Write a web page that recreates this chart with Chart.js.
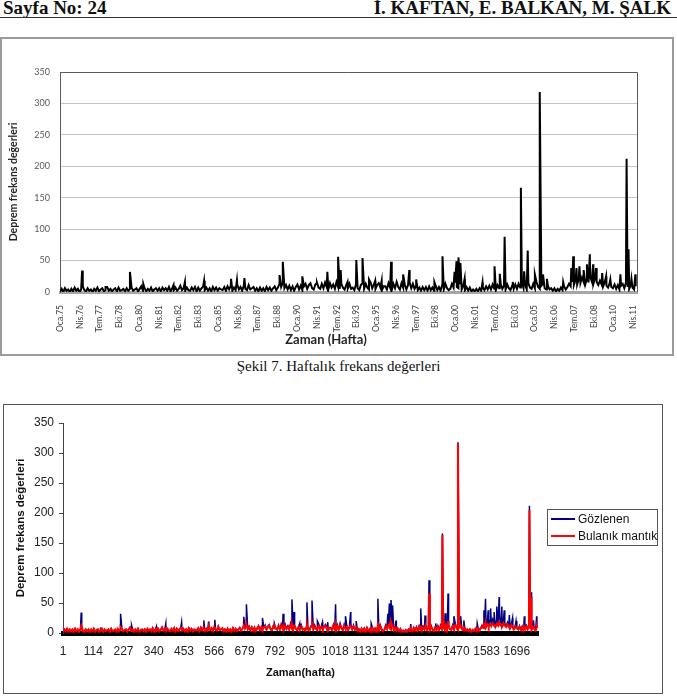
<!DOCTYPE html>
<html lang="tr">
<head>
<meta charset="utf-8">
<title>Haftalık frekans değerleri</title>
<script src="https://cdn.jsdelivr.net/npm/chart.js@4.4.1/dist/chart.umd.min.js"></script>
<style>
  body { margin: 0; background: #fff; }
  #page { position: relative; width: 677px; height: 700px; overflow: hidden; background: #fff; }
  .head { position: absolute; top: -1px; font: bold 19px "Liberation Serif", "Times New Roman", serif; color: #111; line-height: 18px; white-space: nowrap; }
  #rule { position: absolute; left: 0; top: 17px; width: 677px; border-top: 1.5px solid #333; }
  #box1 { position: absolute; left: 0; top: 37px; width: 674px; height: 319px; box-sizing: border-box; border: 2px solid #9b9b9b; }
  #c1 { position: absolute; left: 2px; top: 39px; }
  #caption { position: absolute; left: 0; width: 677px; top: 358px; text-align: center; font: 15px "Liberation Serif", serif; color: #111; }
  #box2 { position: absolute; left: 3px; top: 404px; width: 660px; height: 290px; box-sizing: border-box; border: 1.5px solid #555; }
  #c2 { position: absolute; left: 5px; top: 406px; }
  #legend { position: absolute; left: 547px; top: 509px; width: 111px; height: 37px; box-sizing: border-box; border: 1px solid #555; padding-top: 1px; font: 12px "Liberation Sans", Arial, sans-serif; color: #111; }
  #legend .item { height: 17px; line-height: 17px; white-space: nowrap; }
  #legend .swatch { display: inline-block; width: 24px; height: 0; border-top: 2px solid; vertical-align: middle; margin: 0 3px 2px 3px; }
</style>
</head>
<body>
<div id="page">
  <div class="head" style="left:3px">Sayfa No: 24</div>
  <div class="head" style="right:6px">İ. KAFTAN, E. BALKAN, M. ŞALK</div>
  <div id="rule"></div>

  <div id="box1"></div>
  <canvas id="c1" width="670" height="315"></canvas>
  <div id="caption">Şekil 7. Haftalık frekans değerleri</div>

  <div id="box2"></div>
  <canvas id="c2" width="545" height="285"></canvas>
  <div id="legend"></div>
</div>

<script>
// weekly earthquake counts, base samples every 5 weeks + the visible spikes
var SAMPLE_STEP = 5;
var WEEK_MAX = 1775;

var topTickLabels = ["Oca.75", "Nis.76", "Tem.77", "Eki.78", "Oca.80", "Nis.81", "Tem.82", "Eki.83",
  "Oca.85", "Nis.86", "Tem.87", "Eki.88", "Oca.90", "Nis.91", "Tem.92", "Eki.93", "Oca.95", "Nis.96",
  "Tem.97", "Eki.98", "Oca.00", "Nis.01", "Tem.02", "Eki.03", "Oca.05", "Nis.06", "Tem.07", "Eki.08",
  "Oca.10", "Nis.11"];
var TOP_TICK_STEP = 60.8; // weeks per 15 months

var bottomTickLabels = [1, 114, 227, 340, 453, 566, 679, 792, 905, 1018, 1131, 1244, 1357, 1470, 1583, 1696];

var observedBase = [
  1,5,0,6,2,4,0,5,1,7,2,5,0,4,9,3,1,6,2,4,
  0,5,2,7,1,4,6,1,3,8,2,5,1,4,6,1,7,2,3,5,
  1,6,2,5,7,2,4,6,1,5,9,2,6,1,5,2,7,1,4,6,
  2,6,1,7,3,6,2,8,1,6,3,7,2,5,10,3,6,2,7,3,
  2,7,3,8,1,7,2,6,9,3,7,2,6,1,8,3,7,2,6,4,
  3,8,2,9,4,10,2,7,3,12,4,8,2,10,5,3,11,4,6,8,
  2,6,1,7,2,6,1,8,3,7,2,6,9,3,7,13,8,15,6,11,
  4,10,3,9,2,8,12,4,10,3,9,13,5,11,14,6,4,12,15,7,
  5,13,6,15,8,4,14,7,12,5,16,8,5,13,7,4,11,6,13,5,
  7,3,12,6,3,11,14,5,13,7,4,15,6,12,5,11,14,7,3,9,
  9,4,14,7,3,13,6,16,8,4,14,7,12,4,11,15,6,13,5,10,
  3,7,2,8,3,8,2,9,3,7,2,10,3,8,2,11,4,13,6,3,
  5,13,7,15,8,6,14,4,10,3,8,2,7,1,4,1,5,1,6,2,
  7,3,9,4,10,4,12,5,3,11,6,13,5,10,4,12,6,3,10,5,
  12,5,13,7,15,6,12,4,14,7,5,13,6,16,8,5,10,13,6,4,
  10,4,6,2,6,1,5,2,7,3,9,4,8,13,9,16,11,19,12,21,
  14,23,16,12,21,15,25,17,13,22,16,11,18,12,9,16,10,7,14,8,
  6,12,5,11,4,10,13,6,15,8,5,12,7,4,9
];

var fuzzyBase = [
  2,6,3,7,2,6,3,6,2,7,3,6,2,6,9,4,2,6,3,6,
  2,6,3,7,2,5,6,2,4,7,2,6,3,5,6,2,7,3,4,6,
  2,7,3,6,7,3,5,6,2,6,9,3,6,2,6,3,7,2,5,6,
  3,6,2,7,4,6,3,8,2,6,4,7,3,6,9,4,6,3,7,4,
  3,7,4,8,2,7,3,6,9,4,7,3,6,2,8,4,7,3,6,5,
  4,8,3,9,5,9,3,7,4,11,5,8,3,10,6,4,10,5,6,8,
  3,6,2,7,3,6,2,8,4,7,3,6,8,4,7,11,8,12,6,10,
  5,9,4,9,3,8,11,5,9,4,9,11,6,10,12,7,5,10,12,7,
  6,11,6,12,8,5,12,7,10,6,13,8,6,11,7,5,10,6,11,6,
  7,4,10,6,4,10,12,6,11,7,5,12,6,10,6,10,12,7,4,8,
  8,5,12,7,4,11,6,13,8,5,12,7,10,5,10,12,6,11,6,9,
  3,6,2,7,3,7,2,8,3,6,2,9,3,7,2,9,4,11,6,3,
  5,11,7,12,8,6,11,5,9,4,7,3,6,2,4,2,5,2,5,3,
  6,3,8,4,9,4,10,5,3,9,6,11,5,9,4,10,6,3,9,5,
  10,5,11,7,12,6,10,4,12,7,5,11,6,13,8,5,9,11,6,4,
  9,4,6,3,6,2,5,3,7,3,8,4,8,11,8,13,10,14,10,15,
  12,16,13,10,15,12,17,13,11,16,13,10,14,10,8,13,9,7,11,8,
  6,10,5,9,4,9,11,6,12,7,5,10,7,4,8
];

var peakWeeks = [69,141,216,257,350,385,444,527,545,568,676,686,746,790,823,856,864,885,912,931,
  951,970,990,1019,1056,1075,1096,1152,1177,1214,1220,1226,1232,1245,1300,1337,1353,1368,1393,1418,
  1428,1439,1461,1476,1486,1498,1548,1573,1579,1589,1598,1611,1621,1630,1640,1649,1668,1680,1693,1724,
  1743,1749,1758,1770];
var peakObserved = [34,8,32,13,11,16,18,21,19,22,27,48,25,14,32,56,35,16,51,54,
  20,18,18,48,28,35,20,16,57,32,49,55,46,21,15,41,29,88,16,166,
  33,66,28,318,28,21,16,38,57,38,41,35,44,60,44,38,30,25,20,28,
  212,68,21,28];
var peakFuzzy = [12,5,10,6,7,8,8,9,8,9,12,14,10,8,12,15,12,9,14,16,
  9,8,9,14,10,12,9,8,18,12,15,18,14,9,8,12,10,66,9,163,
  14,20,12,316,12,10,8,14,18,13,14,12,15,18,14,12,11,10,9,11,
  205,60,10,12];

function buildSeries(base, peaks) {
  var pts = base.map(function(v, i) { return {x: 1 + i * SAMPLE_STEP, y: v}; });
  peakWeeks.forEach(function(w, i) { pts.push({x: w, y: peaks[i]}); });
  pts.sort(function(a, b) { return a.x - b.x; });
  return pts;
}

var observed = buildSeries(observedBase, peakObserved);
var fuzzy = buildSeries(fuzzyBase, peakFuzzy);

// top and right edge of the Excel-style plot area
var plotFrame = {
  id: 'plotFrame',
  beforeDatasetsDraw: function(chart, args, opts) {
    if (!opts.color) return;
    var a = chart.chartArea, ctx = chart.ctx;
    ctx.save();
    ctx.strokeStyle = opts.color;
    ctx.lineWidth = 1;
    ctx.beginPath();
    ctx.moveTo(a.left, Math.round(a.top) + 0.5);
    ctx.lineTo(Math.round(a.right) + 0.5, Math.round(a.top) + 0.5);
    ctx.lineTo(Math.round(a.right) + 0.5, a.bottom);
    ctx.stroke();
    ctx.restore();
  }
};

// free positioned axis caption (Excel centres it on the whole chart)
var freeTitle = {
  id: 'freeTitle',
  afterDraw: function(chart, args, opts) {
    if (!opts.text) return;
    var ctx = chart.ctx;
    ctx.save();
    ctx.font = opts.font;
    ctx.fillStyle = opts.color;
    ctx.textAlign = 'center';
    ctx.textBaseline = 'middle';
    ctx.fillText(opts.text, opts.x, opts.y);
    ctx.restore();
  }
};

Chart.register(plotFrame, freeTitle);

var LATO = 'Lato, "DejaVu Sans", sans-serif';
var ARIAL = '"Liberation Sans", Arial, sans-serif';

// Şekil 7
new Chart(document.getElementById('c1').getContext('2d'), {
  type: 'line',
  data: {
    datasets: [{
      label: 'Haftalık frekans',
      data: observed,
      borderColor: '#000',
      borderWidth: 2,
      pointRadius: 0,
      tension: 0
    }]
  },
  options: {
    responsive: false,
    animation: false,
    layout: { padding: { top: 33, right: 35, left: 0, bottom: 0 } },
    plugins: {
      legend: { display: false },
      tooltip: { enabled: false },
      plotFrame: { color: '#5a5a5a' },
      freeTitle: { text: 'Zaman (Hafta)', x: 324, y: 301, font: 'bold 13px ' + LATO, color: '#262626' }
    },
    scales: {
      x: {
        type: 'linear',
        min: 1,
        max: WEEK_MAX,
        afterBuildTicks: function(scale) {
          scale.ticks = topTickLabels.map(function(l, i) { return {value: 1 + i * TOP_TICK_STEP}; });
        },
        afterFit: function(scale) { scale.height = 62; },
        grid: { display: false },
        border: { color: '#a6a6a6', width: 3 },
        ticks: {
          autoSkip: false,
          minRotation: 90,
          maxRotation: 90,
          padding: 5,
          color: '#404040',
          font: { family: LATO, size: 8.5 },
          callback: function(v, i) { return topTickLabels[i]; }
        }
      },
      y: {
        min: 0,
        max: 350,
        afterFit: function(scale) { scale.width = 58; },
        grid: { color: '#c4c4c4', drawTicks: false },
        border: { color: '#5a5a5a' },
        ticks: { stepSize: 50, padding: 10, color: '#595959', font: { family: LATO, size: 9 } },
        title: {
          display: true,
          text: 'Deprem frekans değerleri',
          color: '#262626',
          font: { family: LATO, size: 10.5, weight: 'bold' },
          padding: { top: 5, bottom: 0 }
        }
      }
    }
  }
});

// Gözlenen / Bulanık mantık
var chart2 = new Chart(document.getElementById('c2').getContext('2d'), {
  type: 'line',
  data: {
    datasets: [{
      label: 'Gözlenen',
      data: observed,
      borderColor: '#000080',
      borderWidth: 1.5,
      pointRadius: 0,
      tension: 0,
      order: 1
    }, {
      label: 'Bulanık mantık',
      data: fuzzy,
      borderColor: '#ff0000',
      borderWidth: 2,
      pointRadius: 0,
      tension: 0,
      order: 0
    }]
  },
  options: {
    responsive: false,
    animation: false,
    layout: { padding: { top: 17, right: 12, left: 0, bottom: 0 } },
    plugins: {
      legend: { display: false },
      tooltip: { enabled: false }
    },
    scales: {
      x: {
        type: 'linear',
        min: 1,
        max: WEEK_MAX,
        afterBuildTicks: function(scale) {
          scale.ticks = bottomTickLabels.map(function(v) { return {value: v}; });
        },
        afterFit: function(scale) { scale.height = 58; },
        grid: { display: false, drawTicks: false },
        border: { color: '#000', width: 5 },
        ticks: {
          autoSkip: false,
          maxRotation: 0,
          padding: 11,
          color: '#222',
          font: { family: ARIAL, size: 12 },
          callback: function(v) { return String(v); }
        },
        title: {
          display: true,
          text: 'Zaman(hafta)',
          color: '#111',
          font: { family: ARIAL, size: 11, weight: 'bold' },
          padding: { top: 0, bottom: 11 }
        }
      },
      y: {
        min: 0,
        max: 350,
        afterFit: function(scale) { scale.width = 58; },
        grid: { drawOnChartArea: false, color: '#444', tickLength: 4 },
        border: { color: '#444' },
        ticks: { stepSize: 50, padding: 5, color: '#222', font: { family: ARIAL, size: 12 } },
        title: {
          display: true,
          text: 'Deprem frekans değerleri',
          color: '#111',
          font: { family: ARIAL, size: 11.5, weight: 'bold' },
          padding: { top: 9, bottom: 0 }
        }
      }
    }
  }
});

// legend box built from the chart's own datasets
var legend = document.getElementById('legend');
chart2.data.datasets.forEach(function(ds) {
  var item = document.createElement('div');
  item.className = 'item';
  var sw = document.createElement('span');
  sw.className = 'swatch';
  sw.style.borderTopColor = ds.borderColor;
  item.appendChild(sw);
  item.appendChild(document.createTextNode(ds.label));
  legend.appendChild(item);
});
</script>
</body>
</html>
